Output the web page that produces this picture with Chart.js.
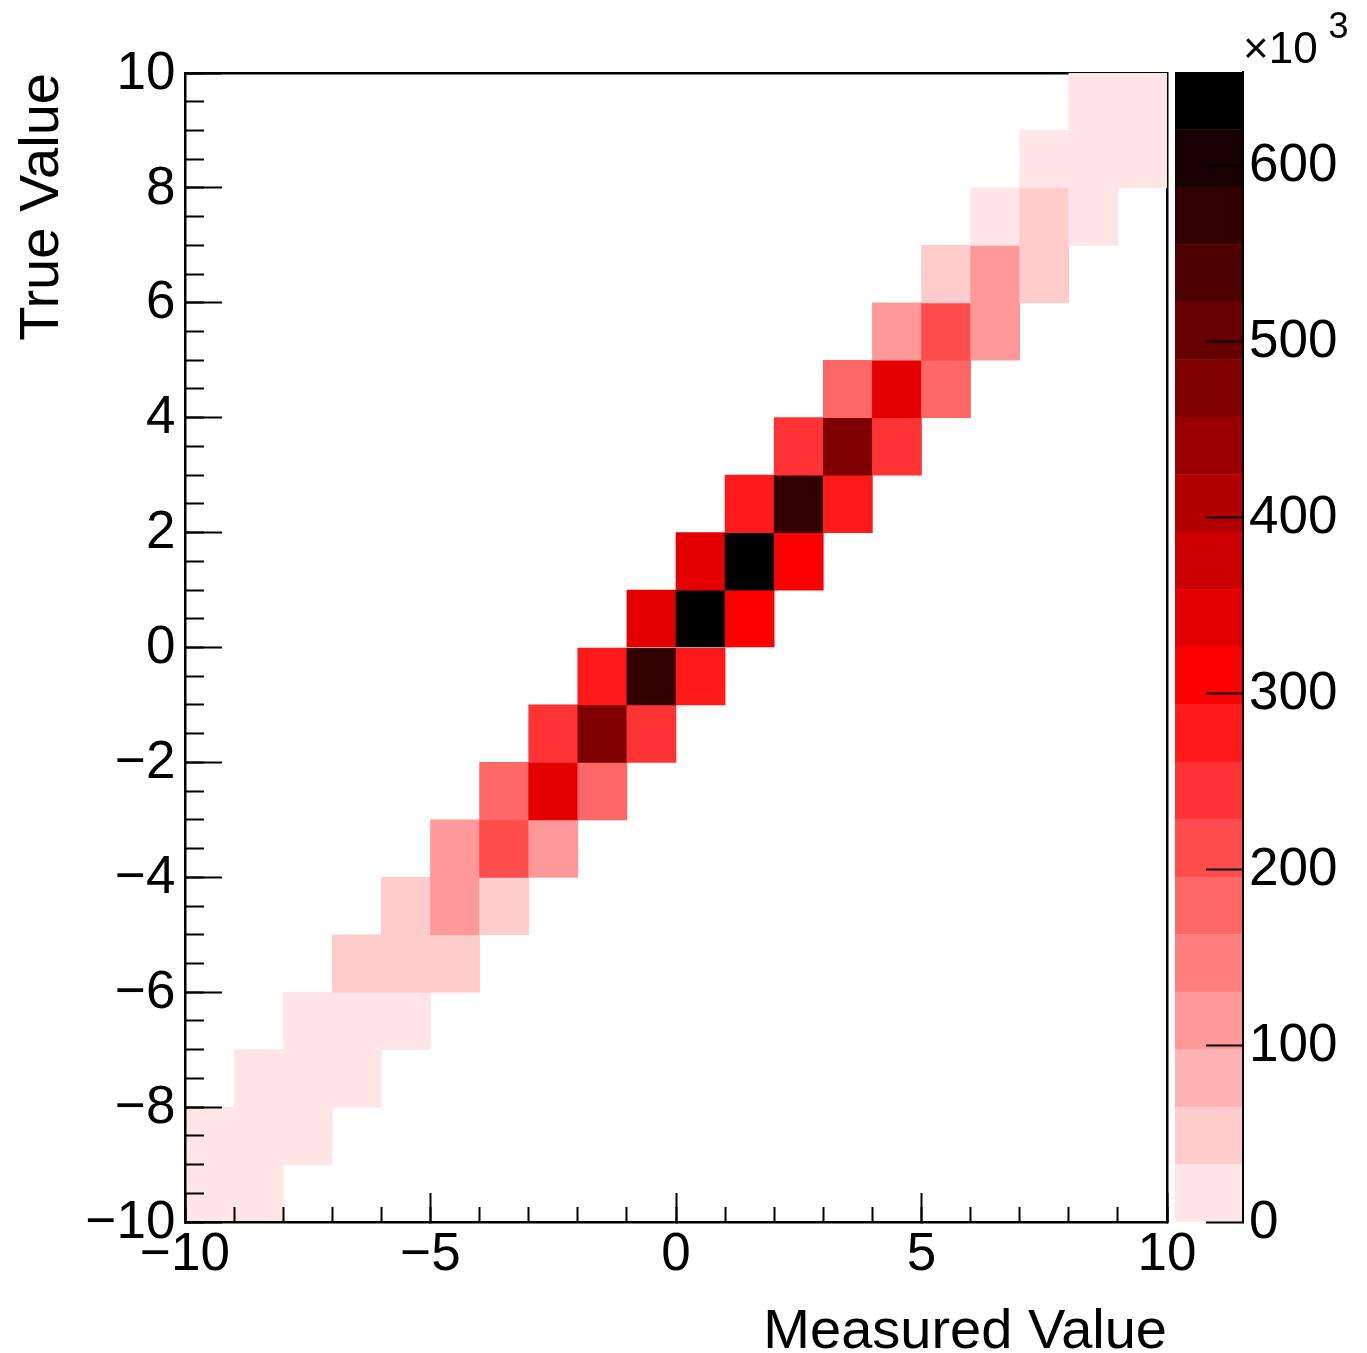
<!DOCTYPE html>
<html><head><meta charset="utf-8">
<script src="https://cdn.jsdelivr.net/npm/chart.js@4.4.1/dist/chart.umd.min.js"></script>
<style>
html,body{margin:0;padding:0;background:#fff;width:1367px;height:1353px;overflow:hidden;}
canvas{position:absolute;left:0;top:0;}
#exp{position:absolute;left:1243px;top:25.8px;font-family:'Liberation Sans',Arial,Helvetica,sans-serif;font-size:44px;line-height:44px;color:#000;white-space:nowrap;}
#exp sup{position:absolute;left:85.5px;top:-18.3px;font-size:36px;line-height:36px;vertical-align:baseline;}
</style></head><body>
<canvas id="main" width="1367" height="1353" style="width:1367px;height:1353px"></canvas>
<canvas id="cbar" width="1367" height="1353" style="width:1367px;height:1353px"></canvas>
<div id="exp">×10<sup>3</sup></div>
<script>
const FONT = "'Liberation Sans', Arial, Helvetica, sans-serif";

// bin edges (20 x 20 bins)
const xEdges = [-10,-9,-8,-7,-6,-5,-4,-3,-2,-1,0,1,2,3,4,5,6,7,8,9,10];
const yEdges = [-10,-9,-8,-7,-6,-5,-4,-3,-2,-1,0,1,2,3,4,5,6,7,8,9,10];

// tick values
const xMajorTicks = [-10,-5,0,5,10];
const xMinorTicks = [-10,-9,-8,-7,-6,-5,-4,-3,-2,-1,0,1,2,3,4,5,6,7,8,9,10];
const yMajorTicks = [-10,-8,-6,-4,-2,0,2,4,6,8,10];
const yMinorTicks = [-10,-9.5,-9,-8.5,-8,-7.5,-7,-6.5,-6,-5.5,-5,-4.5,-4,-3.5,-3,-2.5,-2,-1.5,-1,-0.5,0,0.5,1,1.5,2,2.5,3,3.5,4,4.5,5,5.5,6,6.5,7,7.5,8,8.5,9,9.5,10];
const zTicks = [0,100,200,300,400,500,600];

const xTitle = 'Measured Value';
const yTitle = 'True Value';

// bin contents (x10^3); row index = y bin (from y=-10 upward), column index = x bin (from x=-10)
const counts = [
  /* y -10 */ [22,14, 0, 0, 0, 0, 0, 0, 0, 0, 0, 0, 0, 0, 0, 0, 0, 0, 0, 0],
  /* y  -9 */ [20,24,13, 0, 0, 0, 0, 0, 0, 0, 0, 0, 0, 0, 0, 0, 0, 0, 0, 0],
  /* y  -8 */ [ 0,18,26,15, 0, 0, 0, 0, 0, 0, 0, 0, 0, 0, 0, 0, 0, 0, 0, 0],
  /* y  -7 */ [ 0, 0,22,28,19, 0, 0, 0, 0, 0, 0, 0, 0, 0, 0, 0, 0, 0, 0, 0],
  /* y  -6 */ [ 0, 0, 0,47,56,50, 0, 0, 0, 0, 0, 0, 0, 0, 0, 0, 0, 0, 0, 0],
  /* y  -5 */ [ 0, 0, 0, 0,51,116,49, 0, 0, 0, 0, 0, 0, 0, 0, 0, 0, 0, 0, 0],
  /* y  -4 */ [ 0, 0, 0, 0, 0,114,211,115, 0, 0, 0, 0, 0, 0, 0, 0, 0, 0, 0, 0],
  /* y  -3 */ [ 0, 0, 0, 0, 0, 0,181,346,179, 0, 0, 0, 0, 0, 0, 0, 0, 0, 0, 0],
  /* y  -2 */ [ 0, 0, 0, 0, 0, 0, 0,246,478,243, 0, 0, 0, 0, 0, 0, 0, 0, 0, 0],
  /* y  -1 */ [ 0, 0, 0, 0, 0, 0, 0, 0,280,572,282, 0, 0, 0, 0, 0, 0, 0, 0, 0],
  /* y   0 */ [ 0, 0, 0, 0, 0, 0, 0, 0, 0,343,640,311, 0, 0, 0, 0, 0, 0, 0, 0],
  /* y   1 */ [ 0, 0, 0, 0, 0, 0, 0, 0, 0, 0,345,653,312, 0, 0, 0, 0, 0, 0, 0],
  /* y   2 */ [ 0, 0, 0, 0, 0, 0, 0, 0, 0, 0, 0,281,575,279, 0, 0, 0, 0, 0, 0],
  /* y   3 */ [ 0, 0, 0, 0, 0, 0, 0, 0, 0, 0, 0, 0,248,475,244, 0, 0, 0, 0, 0],
  /* y   4 */ [ 0, 0, 0, 0, 0, 0, 0, 0, 0, 0, 0, 0, 0,180,345,178, 0, 0, 0, 0],
  /* y   5 */ [ 0, 0, 0, 0, 0, 0, 0, 0, 0, 0, 0, 0, 0, 0,118,210,113, 0, 0, 0],
  /* y   6 */ [ 0, 0, 0, 0, 0, 0, 0, 0, 0, 0, 0, 0, 0, 0, 0,52,112,48, 0, 0],
  /* y   7 */ [ 0, 0, 0, 0, 0, 0, 0, 0, 0, 0, 0, 0, 0, 0, 0, 0,24,55,14, 0],
  /* y   8 */ [ 0, 0, 0, 0, 0, 0, 0, 0, 0, 0, 0, 0, 0, 0, 0, 0, 0,20,25,18],
  /* y   9 */ [ 0, 0, 0, 0, 0, 0, 0, 0, 0, 0, 0, 0, 0, 0, 0, 0, 0, 0,12,15]
];

// colour palette (20 levels, white-red-black)
const palette = ['#ffe5e5','#ffcccc','#ffb2b2','#ff9999','#ff7f7f','#ff6666','#ff4c4c','#ff3333','#ff1919','#ff0000',
                 '#e50000','#cc0000','#b20000','#990000','#7f0000','#660000','#4c0000','#330000','#190000','#000000'];

const zMax = Math.max(...counts.flat());
const nLevels = palette.length;

function levelColor(v) {
  let k = Math.floor(v / zMax * nLevels);
  if (k >= nLevels) k = nLevels - 1;
  return palette[k];
}
function fmt(v) { return v < 0 ? '\u2212' + Math.abs(v) : String(v); }
const setTicks = arr => s => { s.ticks = arr.map(v => ({value: v})); };

const cells = [], cellColors = [];
counts.forEach((row, r) => row.forEach((v, c) => {
  if (v > 0) {
    cells.push({x: (xEdges[c] + xEdges[c + 1]) / 2, y: [yEdges[r], yEdges[r + 1]]});
    cellColors.push(levelColor(v));
  }
}));

const tickFont = {family: FONT, size: 53, lineHeight: 1};
const titleFont = {family: FONT, size: 56, lineHeight: 0.5};

new Chart(document.getElementById('main'), {
  type: 'bar',
  data: {datasets: [{data: cells, backgroundColor: cellColors, borderWidth: 0,
    barPercentage: 1, categoryPercentage: 1, xAxisID: 'x', yAxisID: 'y'}]},
  options: {
    responsive: false, animation: false, devicePixelRatio: 1, events: [],
    layout: {padding: {left: 0, top: 72, right: 200, bottom: 0}},
    plugins: {legend: {display: false}, tooltip: {enabled: false}},
    scales: {
      x: {type: 'linear', position: 'bottom', min: -10, max: 10, offset: false, weight: 1,
        afterBuildTicks: setTicks(xMajorTicks), afterFit: s => { s.height = 131; },
        grid: {offset: false, drawOnChartArea: false, tickLength: -29, tickWidth: 2, tickColor: '#000', z: 1},
        border: {display: true, color: '#000', width: 2.5, z: 1},
        ticks: {autoSkip: false, maxRotation: 0, minRotation: 0, padding: 36, color: '#000', font: tickFont, callback: v => fmt(v)},
        title: {display: true, text: xTitle, align: 'end', color: '#000', font: titleFont, padding: {top: 0, bottom: 6.4}}},
      x2: {type: 'linear', position: 'bottom', min: -10, max: 10, offset: false, weight: 0,
        afterBuildTicks: setTicks(xMinorTicks), afterFit: s => { s.height = 0; },
        grid: {offset: false, drawOnChartArea: false, tickLength: -15, tickWidth: 2, tickColor: '#000', z: 1},
        border: {display: false}, ticks: {display: false}},
      xTop: {type: 'linear', position: 'top', min: -10, max: 10, offset: false,
        afterFit: s => { s.height = 0; },
        grid: {offset: false, drawOnChartArea: false, drawTicks: false},
        border: {display: true, color: '#000', width: 2.5}, ticks: {display: false}},
      y: {type: 'linear', position: 'left', min: -10, max: 10, weight: 1,
        afterBuildTicks: setTicks(yMajorTicks), afterFit: s => { s.width = 185; },
        grid: {drawOnChartArea: false, tickLength: -37, tickWidth: 2, tickColor: '#000', z: 1},
        border: {display: true, color: '#000', width: 2.5, z: 1},
        ticks: {autoSkip: false, padding: 46.5, labelOffset: 1, color: '#000', font: tickFont, callback: v => fmt(v)},
        title: {display: true, text: yTitle, align: 'end', color: '#000', font: titleFont, padding: {top: 28.6, bottom: 0}}},
      y2: {type: 'linear', position: 'left', min: -10, max: 10, weight: 0,
        afterBuildTicks: setTicks(yMinorTicks), afterFit: s => { s.width = 0; },
        grid: {drawOnChartArea: false, tickLength: -19, tickWidth: 2, tickColor: '#000', z: 1},
        border: {display: false}, ticks: {display: false}},
      yRight: {type: 'linear', position: 'right', min: -10, max: 10,
        afterFit: s => { s.width = 0; },
        grid: {drawOnChartArea: false, drawTicks: false},
        border: {display: true, color: '#000', width: 2.5}, ticks: {display: false}}
    }
  }
});

// colour bar
const cbDatasets = palette.map((col, k) => ({
  data: [[k * zMax / nLevels, (k + 1) * zMax / nLevels]],
  backgroundColor: col, borderWidth: 0, barPercentage: 1, categoryPercentage: 1, grouped: false
}));

new Chart(document.getElementById('cbar'), {
  type: 'bar',
  data: {labels: [''], datasets: cbDatasets},
  options: {
    responsive: false, animation: false, devicePixelRatio: 1, events: [],
    layout: {padding: {left: 1175, top: 72, right: 0, bottom: 131}},
    plugins: {legend: {display: false}, tooltip: {enabled: false}},
    scales: {
      x: {display: false, offset: true},
      y: {type: 'linear', position: 'right', min: 0, max: zMax,
        afterBuildTicks: setTicks(zTicks), afterFit: s => { s.width = 124; },
        grid: {drawOnChartArea: false, tickLength: -37, tickWidth: 2, tickColor: '#000', z: 1},
        border: {display: true, color: '#000', width: 2, z: 1},
        ticks: {autoSkip: false, padding: 43, labelOffset: 1, color: '#000', font: tickFont, callback: v => String(v)}}
    }
  }
});
</script>
</body></html>
